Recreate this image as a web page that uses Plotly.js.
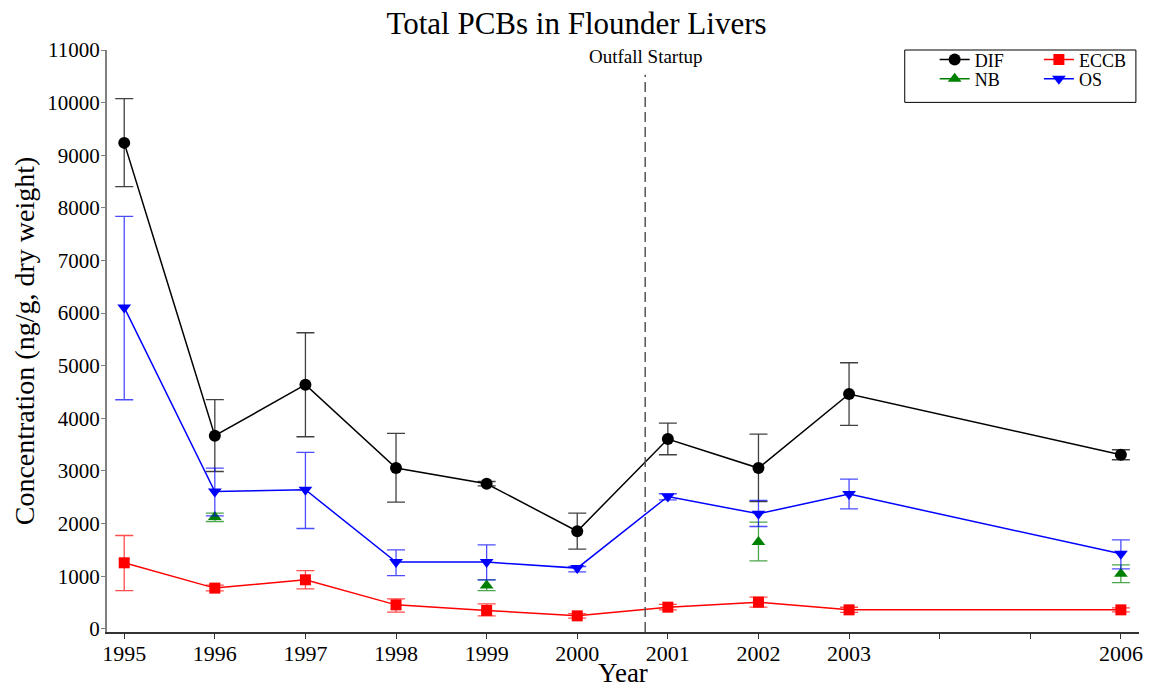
<!DOCTYPE html>
<html>
<head>
<meta charset="utf-8">
<script src="https://cdn.plot.ly/plotly-3.0.1.min.js"></script>
<style>html,body{margin:0;padding:0;background:#fff;}#chart{width:1153px;height:688px;}</style>
</head>
<body>
<div id="chart"></div>
<script>
const years = [1995,1996,1997,1998,1999,2000,2001,2002,2003,2006];
const tickYears = [1995,1996,1997,1998,1999,2000,2001,2002,2003,2004,2005,2006];
const tickLabels = ['1995','1996','1997','1998','1999','2000','2001','2002','2003','','','2006'];
const yTicks = [0,1000,2000,3000,4000,5000,6000,7000,8000,9000,10000,11000];
const yTickLabels = ['0','1000','2000','3000','4000','5000','6000','7000','8000','9000','10000','11000'];

const difVal = [9235,3670,4640,3055,2757,1855,3606,3055,4462,3308];
const difUp  = [10076,4355,5627,3713,2800,2200,3910,3701,5057,3403];
const difLo  = [8403,2990,3650,2409,2715,1515,3308,2420,3865,3213];

const eccbVal = [1255,774,932,456,350,247,412,507,361,361];
const eccbUp  = [1774,830,1108,570,475,290,465,602,410,400];
const eccbLo  = [728,720,760,317,247,205,360,412,312,322];

const nbVal = [null,2124,null,null,825,null,null,1648,null,1046];
const nbUp  = [null,2200,null,null,932,null,null,2028,null,1217];
const nbLo  = [null,2040,null,null,728,null,null,1293,null,880];

const osVal = [6108,2610,2643,1268,1268,1154,2515,2186,2561,1426];
const osUp  = [7840,3055,3352,1502,1597,1185,2567,2440,2846,1692];
const osLo  = [4354,2148,1907,1013,932,1084,2452,1945,2281,1141];

const outfallYear = 2000.75;

function errs(val, up, lo) {
  return {
    plus: val.map((v,i) => v === null ? null : up[i] - v),
    minus: val.map((v,i) => v === null ? null : v - lo[i])
  };
}

function trace(name, val, up, lo, color, errColor, symbol, size, legend) {
  const e = errs(val, up, lo);
  return {
    x: years, y: val, name: name, type: 'scatter', mode: 'lines+markers',
    connectgaps: false,
    line: {color: color, width: 1.5},
    marker: {color: color, symbol: symbol, size: size},
    error_y: {type: 'data', symmetric: false, array: e.plus, arrayminus: e.minus,
              color: errColor, thickness: 1.3, width: 9},
    legend: legend
  };
}

const data = [
  trace('DIF', difVal, difUp, difLo, '#000000', 'rgba(0,0,0,0.75)', 'circle', 12, 'legend'),
  trace('ECCB', eccbVal, eccbUp, eccbLo, '#ff0000', 'rgba(255,0,0,0.7)', 'square', 11, 'legend2'),
  trace('NB', nbVal, nbUp, nbLo, '#008000', 'rgba(0,128,0,0.7)', 'triangle-up', 12, 'legend3'),
  trace('OS', osVal, osUp, osLo, '#0000ff', 'rgba(0,0,255,0.7)', 'triangle-down', 12, 'legend4')
];

const serif = 'Liberation Serif, Times New Roman, serif';
const legFont = {family: serif, size: 18, color: '#000'};
function leg(x, y) {
  return {x: x, y: y, xanchor: 'left', yanchor: 'middle', bgcolor: 'rgba(0,0,0,0)',
          borderwidth: 0, font: legFont, itemwidth: 30, tracegroupgap: 0};
}

const layout = {
  width: 1153, height: 688,
  margin: {l: 107, r: 14, t: 50, b: 56},
  paper_bgcolor: '#fff', plot_bgcolor: '#fff',
  font: {family: serif, color: '#000'},
  title: {text: 'Total PCBs in Flounder Livers', x: 0.5, xanchor: 'center', y: 0.967, yanchor: 'middle',
          font: {size: 31, family: serif, color: '#000'}},
  showlegend: true,
  legend: leg(0.802, 0.983),
  legend2: leg(0.903, 0.983),
  legend3: leg(0.802, 0.950),
  legend4: leg(0.903, 0.950),
  xaxis: {
    range: [1994.81, 2006.2], tickmode: 'array', tickvals: tickYears, ticktext: tickLabels,
    showgrid: false, zeroline: false, showline: true, linecolor: '#333', linewidth: 1.5,
    ticks: 'outside', ticklen: 5, tickcolor: '#333', tickfont: {size: 22, family: serif},
    ticklabelstandoff: -4,
    title: {text: 'Year', font: {size: 27, family: serif}, standoff: 2}
  },
  yaxis: {
    range: [-60, 11000], tickmode: 'array', tickvals: yTicks, ticktext: yTickLabels,
    showgrid: false, zeroline: false, showline: true, linecolor: '#808080', linewidth: 2,
    ticks: 'outside', ticklen: 4, tickcolor: '#808080', tickfont: {size: 21, family: serif},
    ticklabelstandoff: -3,
    title: {text: 'Concentration (ng/g, dry weight)', font: {size: 28, family: serif}, standoff: 4}
  },
  shapes: [
    {type: 'line', xref: 'x', yref: 'y', x0: outfallYear, x1: outfallYear, y0: -60, y1: 10530,
     line: {color: '#555', width: 1.5, dash: '10px,5px'}},
    {type: 'rect', xref: 'paper', yref: 'paper', x0: 0.773, x1: 0.997, y0: 0.91, y1: 1.0,
     line: {color: '#000', width: 1}, fillcolor: 'rgba(0,0,0,0)'}
  ],
  annotations: [
    {text: 'Outfall Startup', xref: 'x', yref: 'paper', x: outfallYear, y: 1.0, yanchor: 'bottom',
     yshift: -19, showarrow: false, font: {size: 19, family: serif}}
  ]
};

Plotly.newPlot('chart', data, layout, {displayModeBar: false, staticPlot: true});
</script>
</body>
</html>
